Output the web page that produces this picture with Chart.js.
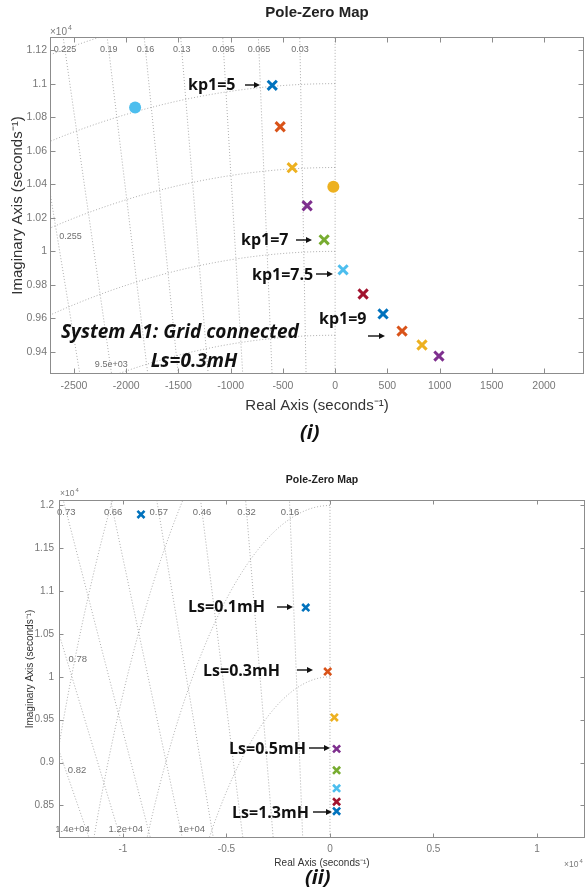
<!DOCTYPE html>
<html>
<head>
<meta charset="utf-8">
<title>Pole-Zero Map</title>
<script src="https://cdn.jsdelivr.net/npm/chart.js@4.4.1/dist/chart.umd.min.js"></script>
<style>
  html, body { margin: 0; padding: 0; background: #fff; }
  body { position: relative; width: 585px; height: 892px; overflow: hidden; }
  canvas { position: absolute; left: 0; }
  #pz1 { top: 0; }
  #pz2 { top: 462px; }
  .tag { position: absolute; font: italic bold 20px "Open Sans", sans-serif; color: #111; line-height: 24px; }
</style>
</head>
<body>
<canvas id="pz1" width="585" height="420"></canvas>
<canvas id="pz2" width="585" height="410"></canvas>
<div class="tag" style="left:300px;top:420px">(i)</div>
<div class="tag" style="left:305px;top:865px">(ii)</div>
<script>
// matlab default colour order
const mBlue = '#0072BD', mOrange = '#D95319', mYellow = '#EDB120', mPurple = '#7E2F8E',
      mGreen = '#77AC30', mCyan = '#4DBEEE', mRed = '#A2142F';

// (i) kp1 sweep - real axis in s^-1, imag axis in x10^4 s^-1
const kpPoleRe = [-602, -526, -411, -268, -105, 76, 268, 459, 641, 832, 994];
const kpPoleIm = [1.0990, 1.0743, 1.0499, 1.0272, 1.0069, 0.9890, 0.9746, 0.9627, 0.9525, 0.9442, 0.9376];
const kpPoleColors = [mBlue, mOrange, mYellow, mPurple, mGreen, mCyan, mRed, mBlue, mOrange, mYellow, mPurple];
const kpZeroRe = [-1915, -17];
const kpZeroIm = [1.0858, 1.0385];
const kpZeroColors = [mCyan, mYellow];
const kpXTicks = [-2500, -2000, -1500, -1000, -500, 0, 500, 1000, 1500, 2000];
const kpYTicks = [0.94, 0.96, 0.98, 1, 1.02, 1.04, 1.06, 1.08, 1.1, 1.12];
const kpDamping = [0.03, 0.065, 0.095, 0.13, 0.16, 0.19, 0.225, 0.255];
const kpFreqs = [9500, 10000, 10500, 11000, 11500];
const kpFreqLabels = ['9.5e+03'];

// (ii) Ls sweep - both axes in x10^4 s^-1
const lsPoleRe = [-0.913, -0.117, -0.011, 0.021, 0.032, 0.032, 0.032, 0.032, 0.032];
const lsPoleIm = [1.1895, 1.0809, 1.0062, 0.9527, 0.9160, 0.8910, 0.8700, 0.8543, 0.8433];
const lsPoleColors = [mBlue, mBlue, mOrange, mYellow, mPurple, mGreen, mCyan, mRed, mBlue];
const lsXTicks = [-1, -0.5, 0, 0.5, 1];
const lsYTicks = [0.85, 0.9, 0.95, 1, 1.05, 1.1, 1.15, 1.2];
const lsDamping = [0.16, 0.32, 0.46, 0.57, 0.66, 0.73, 0.78, 0.82];
const lsFreqs = [1, 1.2, 1.4, 1.6];
const lsFreqLabels = ['1e+04', '1.2e+04', '1.4e+04'];

Chart.defaults.font.family = '"Liberation Sans", Arial, sans-serif';
Chart.defaults.animation = false;

// s-plane damping rays / natural frequency arcs, dotted like sgrid
const sgrid = {
  id: 'sgrid',
  beforeDatasetsDraw(chart, args, o) {
    const { ctx, chartArea: a } = chart;
    const xs = chart.scales.x, ys = chart.scales.y;
    const px = r => xs.getPixelForValue(r / o.xUnit);
    const py = i => ys.getPixelForValue(i / o.yUnit);
    ctx.save();
    ctx.beginPath();
    ctx.rect(a.left, a.top, a.right - a.left, a.bottom - a.top);
    ctx.clip();
    ctx.strokeStyle = 'rgba(120,120,120,0.6)';
    ctx.lineWidth = 1;
    ctx.setLineDash([1, 2]);
    [0].concat(o.damping).forEach(z => {
      ctx.beginPath();
      ctx.moveTo(px(0), py(0));
      ctx.lineTo(px(-z * o.reach), py(Math.sqrt(1 - z * z) * o.reach));
      ctx.stroke();
    });
    o.freqs.forEach(w => {
      ctx.beginPath();
      for (let k = 0; k <= 400; k++) {
        const t = Math.PI / 2 + (k / 400) * Math.PI / 2;
        const X = px(w * Math.cos(t)), Y = py(w * Math.sin(t));
        if (k) ctx.lineTo(X, Y); else ctx.moveTo(X, Y);
      }
      ctx.stroke();
    });
    ctx.restore();

    ctx.save();
    ctx.fillStyle = '#6e6e6e';
    ctx.font = o.font;
    ctx.textBaseline = 'middle';
    const yTop = a.top + o.topGap;
    const imTop = ys.getValueForPixel(yTop) * o.yUnit;
    const reMin = xs.min * o.xUnit;
    o.damping.forEach(z => {
      const k = z / Math.sqrt(1 - z * z);
      if (-k * imTop >= reMin) {
        ctx.textAlign = 'center';
        ctx.fillText(String(z), px(-k * imTop), yTop);
      }
    });
    o.side.forEach(s => {
      const k = s.z / Math.sqrt(1 - s.z * s.z);
      const im = s.im * o.yUnit;
      ctx.textAlign = 'left';
      ctx.fillText(String(s.z), px(-k * im) + 2, py(im));
    });
    const imBot = ys.min * o.yUnit;
    o.freqText.forEach((txt, i) => {
      const w = o.freqs[i];
      ctx.textAlign = 'right';
      ctx.fillText(txt, px(-Math.sqrt(w * w - imBot * imBot)) + o.freqDx, a.bottom - 9);
    });
    ctx.restore();
  }
};

// matlab style box with inward ticks on all sides
const frame = {
  id: 'frame',
  afterDatasetsDraw(chart, args, o) {
    const { ctx, chartArea: a } = chart;
    const xs = chart.scales.x, ys = chart.scales.y;
    const L = Math.round(a.left) + 0.5, R = Math.round(a.right) - 0.5;
    const T = Math.round(a.top) + 0.5, B = Math.round(a.bottom) - 0.5;
    ctx.save();
    ctx.strokeStyle = '#8c8c8c';
    ctx.lineWidth = 1;
    ctx.strokeRect(L, T, R - L, B - T);
    ctx.beginPath();
    xs.ticks.forEach(t => {
      const x = Math.round(xs.getPixelForValue(t.value)) + 0.5;
      ctx.moveTo(x, B); ctx.lineTo(x, B - o.len);
      ctx.moveTo(x, T); ctx.lineTo(x, T + o.len);
    });
    ys.ticks.forEach(t => {
      const y = Math.round(ys.getPixelForValue(t.value)) + 0.5;
      ctx.moveTo(L, y); ctx.lineTo(L + o.len, y);
      ctx.moveTo(R, y); ctx.lineTo(R - o.len, y);
    });
    ctx.stroke();
    ctx.restore();
  }
};

// text labels, arrows and x10^4 exponents
const notes = {
  id: 'notes',
  afterDraw(chart, args, o) {
    const ctx = chart.ctx;
    ctx.save();
    ctx.textBaseline = 'middle';
    o.items.forEach(n => {
      ctx.fillStyle = '#111';
      ctx.strokeStyle = '#111';
      if (n.text) {
        ctx.font = n.font;
        ctx.textAlign = n.align || 'left';
        ctx.fillText(n.text, n.x, n.y);
      }
      if (n.arrow) {
        const [x0, x1, y] = n.arrow;
        ctx.lineWidth = 1.4;
        ctx.beginPath();
        ctx.moveTo(x0, y); ctx.lineTo(x1 - 4, y);
        ctx.stroke();
        ctx.beginPath();
        ctx.moveTo(x1, y); ctx.lineTo(x1 - 6, y - 3); ctx.lineTo(x1 - 6, y + 3);
        ctx.closePath();
        ctx.fill();
      }
    });
    o.exps.forEach(e => {
      ctx.fillStyle = '#7a7a7a';
      ctx.textAlign = 'left';
      ctx.font = e.size + 'px "Liberation Sans", Arial, sans-serif';
      ctx.fillText('×10', e.x, e.y);
      const w = ctx.measureText('×10').width;
      ctx.font = (e.size * 0.7) + 'px "Liberation Sans", Arial, sans-serif';
      ctx.fillText('4', e.x + w + 1, e.y - e.size * 0.4);
    });
    ctx.restore();
  }
};

function pts(re, im) {
  return re.map((x, i) => ({ x: x, y: im[i] }));
}

function axis(c) {
  return {
    type: 'linear',
    min: c.min,
    max: c.max,
    grid: { display: false, drawTicks: false },
    border: { display: false },
    ticks: { autoSkip: false, color: '#777', padding: c.pad, font: { size: c.tick }, callback: v => String(v) },
    afterBuildTicks: s => { s.ticks = c.values.map(v => ({ value: v })); },
    afterFit: s => {
      if (c.width) s.width = c.width; else s.height = c.height;
      s.paddingLeft = 0; s.paddingRight = 0; s.paddingTop = 0; s.paddingBottom = 0;
    },
    title: { display: true, text: c.title, color: '#333', font: { size: c.tsize }, padding: c.tpad }
  };
}

const bold16 = 'bold 16px "Open Sans", sans-serif';
const boldIt19 = 'italic bold 19px "Open Sans", sans-serif';

new Chart(document.getElementById('pz1'), {
  type: 'scatter',
  data: {
    datasets: [
      { data: pts(kpPoleRe, kpPoleIm), pointStyle: 'crossRot', pointRadius: 6.5, pointBorderWidth: 3,
        pointBorderColor: kpPoleColors, pointBackgroundColor: kpPoleColors },
      { data: pts(kpZeroRe, kpZeroIm), pointStyle: 'circle', pointRadius: 6, pointBorderWidth: 0,
        pointBackgroundColor: kpZeroColors, pointBorderColor: kpZeroColors }
    ]
  },
  options: {
    responsive: false,
    layout: { autoPadding: false, padding: { left: 0, right: 1, top: 0, bottom: 0 } },
    scales: {
      x: axis({ min: -2730, max: 2383, values: kpXTicks, pad: 6, tick: 10.5, height: 46,
                title: 'Real Axis (seconds⁻¹)', tsize: 15, tpad: { top: 0, bottom: 5 } }),
      y: axis({ min: 0.9269, max: 1.1278, values: kpYTicks, pad: 3, tick: 10.5, width: 50,
                title: 'Imaginary Axis (seconds⁻¹)', tsize: 15, tpad: { top: 9, bottom: 0 } })
    },
    plugins: {
      legend: { display: false },
      tooltip: { enabled: false },
      title: { display: true, text: 'Pole-Zero Map', fullSize: false, color: '#222',
               font: { size: 15, weight: 'bold' }, padding: { top: 4, bottom: 15 } },
      sgrid: { xUnit: 1, yUnit: 1e4, reach: 3e4, damping: kpDamping, freqs: kpFreqs, freqText: kpFreqLabels,
               side: [{ z: 0.255, im: 1.009 }], topGap: 13, freqDx: 10, font: '9px "Liberation Sans", Arial, sans-serif' },
      frame: { len: 5 },
      notes: {
        items: [
          { text: 'kp1=5', x: 188, y: 85, font: bold16, arrow: [245, 260, 85] },
          { text: 'kp1=7', x: 241, y: 240, font: bold16, arrow: [296, 312, 240] },
          { text: 'kp1=7.5', x: 252, y: 275, font: bold16, arrow: [316, 333, 274] },
          { text: 'kp1=9', x: 319, y: 319, font: bold16, arrow: [368, 385, 336] },
          { text: 'System A1: Grid connected', x: 61, y: 333, font: boldIt19 },
          { text: 'Ls=0.3mH', x: 194, y: 362, font: boldIt19, align: 'center' }
        ],
        exps: [{ x: 50, y: 32, size: 10 }]
      }
    }
  },
  plugins: [sgrid, frame, notes]
});

new Chart(document.getElementById('pz2'), {
  type: 'scatter',
  data: {
    datasets: [
      { data: pts(lsPoleRe, lsPoleIm), pointStyle: 'crossRot', pointRadius: 5, pointBorderWidth: 2.6,
        pointBorderColor: lsPoleColors, pointBackgroundColor: lsPoleColors }
    ]
  },
  options: {
    responsive: false,
    layout: { autoPadding: false, padding: 0 },
    scales: {
      x: axis({ min: -1.309, max: 1.232, values: lsXTicks, pad: 5, tick: 10, height: 34,
                title: 'Real Axis (seconds⁻¹)', tsize: 10, tpad: { top: 0, bottom: 3 } }),
      y: axis({ min: 0.812, max: 1.2064, values: lsYTicks, pad: 5, tick: 10, width: 59,
                title: 'Imaginary Axis (seconds⁻¹)', tsize: 10, tpad: { top: 24, bottom: 0 } })
    },
    plugins: {
      legend: { display: false },
      tooltip: { enabled: false },
      title: { display: true, text: 'Pole-Zero Map', fullSize: false, color: '#222',
               font: { size: 10.5, weight: 'bold' }, padding: { top: 11.7, bottom: 13.7 } },
      sgrid: { xUnit: 1, yUnit: 1, reach: 3, damping: lsDamping, freqs: lsFreqs, freqText: lsFreqLabels,
               side: [{ z: 0.78, im: 1.021 }, { z: 0.82, im: 0.8906 }], topGap: 12, freqDx: -4,
               font: '9.5px "Liberation Sans", Arial, sans-serif' },
      frame: { len: 4 },
      notes: {
        items: [
          { text: 'Ls=0.1mH', x: 188, y: 145, font: bold16, arrow: [277, 293, 145] },
          { text: 'Ls=0.3mH', x: 203, y: 209, font: bold16, arrow: [297, 313, 208] },
          { text: 'Ls=0.5mH', x: 229, y: 287, font: bold16, arrow: [309, 330, 286] },
          { text: 'Ls=1.3mH', x: 232, y: 351, font: bold16, arrow: [313, 332, 350] }
        ],
        exps: [{ x: 60, y: 32, size: 8.5 }, { x: 564, y: 403, size: 8.5 }]
      }
    }
  },
  plugins: [sgrid, frame, notes]
});
</script>
</body>
</html>
